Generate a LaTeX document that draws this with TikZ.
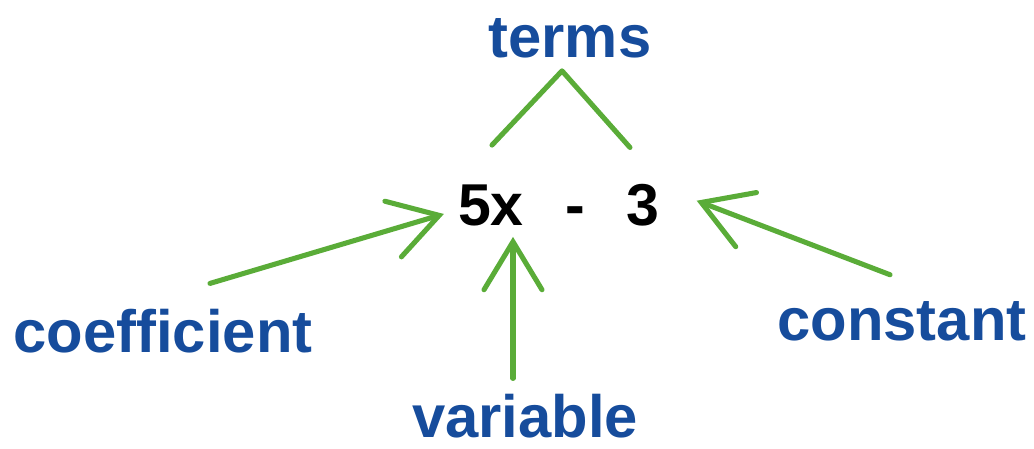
\documentclass[tikz,border=0pt]{standalone}
\usepackage{fontspec}
\setmainfont{Liberation Sans}
\usetikzlibrary{arrows.meta,calc}
\definecolor{termblue}{RGB}{22,76,156}
\definecolor{arrgreen}{RGB}{90,172,56}
\begin{document}
\begin{tikzpicture}[
  x=0.025cm,y=-0.025cm,
  word/.style={text=termblue,inner sep=0pt,anchor=base,font=\fontsize{42.5}{48}\selectfont\bfseries},
  expr/.style={text=black,inner sep=0pt,anchor=base,font=\fontsize{42}{48}\selectfont\bfseries},
  greenline/.style={draw=arrgreen,line width=3.6pt,line cap=round,line join=round},
  arr/.style={greenline,-{Straight Barb[length=1.2cm,width=1.45cm,line cap=round]}}
]
  \useasboundingbox (0,0) rectangle (1034,448);
  \node[word] (terms) at (570,57) {terms};
  \node[expr] (fivex) at (491,225) {5x};
  \node[expr] (minus) at (575,225) {-};
  \node[expr] (three) at (643,225) {3};
  \node[word] (coeff) at (163,352) {coefficient};
  \node[word] (var)   at (525,437) {variable};
  \node[word] (const) at (902,340) {constant};

  \draw[greenline] ($(fivex.north)+(1,-39)$) -- ($(terms.south)+(-8,13)$) -- ($(three.north)+(-13,-36)$);
  \draw[arr] ($(coeff.north)+(47,-25)$) -- ($(fivex.west)+(-14,9)$);
  \draw[arr] ($(var.north)+(-12,-15)$) -- ($(fivex.south)+(22,11)$);
  \draw[arr] ($(const.north)+(-12,-26)$) -- ($(three.east)+(37,-4)$);
\end{tikzpicture}
\end{document}
